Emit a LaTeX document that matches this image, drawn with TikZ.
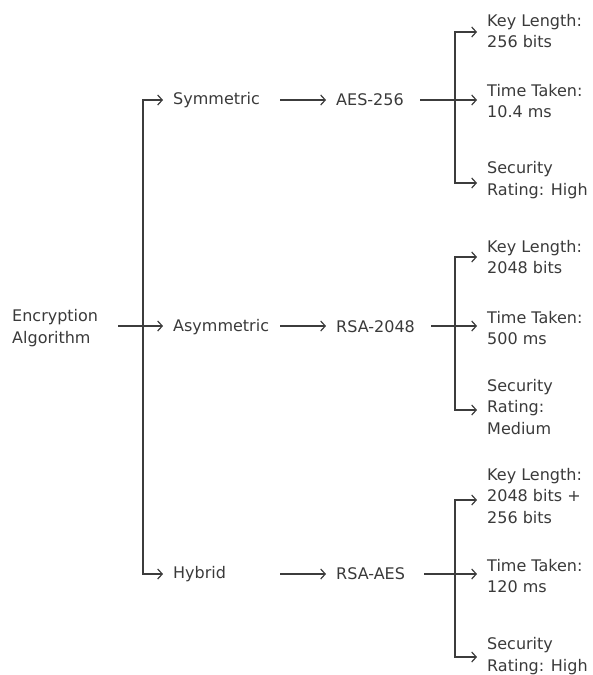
\documentclass[tikz,border=0pt]{standalone}
\usepackage{fontspec}
\setmainfont{DejaVu Sans}
\usetikzlibrary{arrows.meta}
\definecolor{txtc}{HTML}{3A3A3A}
\definecolor{linec}{HTML}{3C3C3C}
\newcommand{\lblfont}{\fontsize{16}{21.5}\selectfont}
\tikzset{
  lbl/.style={anchor=west, inner sep=0pt, align=left, font=\lblfont, text=txtc},
  arr/.style={draw=linec, line width=1.2pt, -{Straight Barb[length=4.5pt,width=10pt,line width=1.2pt]}, shorten >=10pt},
}
\begin{document}
\begin{tikzpicture}[x=1pt,y=-1pt]
\useasboundingbox (0,0) rectangle (592,675);
% nodes
\node[lbl] (enc) at (12,328) {Encryption\\Algorithm};
\node[lbl] (sym) at (173,100) {Symmetric};
\node[lbl] (asym) at (173,327) {Asymmetric};
\node[lbl] (hyb) at (173,574) {Hybrid};
\node[lbl] (aes) at (336,100) {AES-256};
\node[lbl] (rsa) at (336,327) {RSA-2048};
\node[lbl] (ra) at (336,574) {RSA-AES};
\node[lbl] (k1) at (487,31) {Key Length:\\256 bits};
\node[lbl] (t1) at (487,101) {Time Taken:\\10.4 ms};
\node[lbl] (s1) at (487,180) {Security\\Rating: High};
\node[lbl] (k2) at (487,257) {Key Length:\\2048 bits};
\node[lbl] (t2) at (487,328) {Time Taken:\\500 ms};
\node[lbl] (s2) at (487,407) {Security\\Rating:\\Medium};
\node[lbl] (k3) at (487,496) {Key Length:\\2048 bits +\\256 bits};
\node[lbl] (t3) at (487,576) {Time Taken:\\120 ms};
\node[lbl] (s3) at (487,656) {Security\\Rating: High};
% junctions
\coordinate (j1) at (143,326);
\coordinate (j2) at (455,100);
\coordinate (j3) at (455,326);
\coordinate (j4) at (455,574);
% level 1
\draw[arr] (118,326) -- (j1 -| asym.west);
\draw[arr] (j1) |- (sym.west);
\draw[arr] (j1) |- (hyb.west);
% level 2
\draw[arr] (280,100) -- (aes.west);
\draw[arr] (280,326) -- (j1 -| rsa.west);
\draw[arr] (280,574) -- (ra.west);
% level 3
\draw[arr] (420,100) -- (t1.west |- j2);
\draw[arr] (j2) |- ([yshift=-1pt]k1.west);
\draw[arr] (j2) |- ([yshift=-3pt]s1.west);
\draw[arr] (431,326) -- (t2.west |- j3);
\draw[arr] (j3) |- (k2.west);
\draw[arr] (j3) |- ([yshift=-3pt]s2.west);
\draw[arr] (424,574) -- (t3.west |- j4);
\draw[arr] (j4) |- ([yshift=-4pt]k3.west);
\draw[arr] (j4) |- ([yshift=-1pt]s3.west);
\end{tikzpicture}
\end{document}
